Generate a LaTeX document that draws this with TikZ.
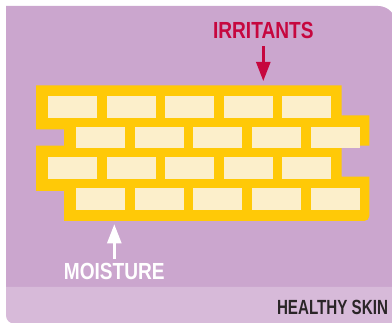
\documentclass[tikz,border=0pt]{standalone}
\usepackage{fontspec}
\setmainfont{Liberation Sans}
\newfontfamily\labelfont[FakeStretch=0.82]{Liberation Sans}
\newfontfamily\tagfont[FakeStretch=0.74]{Liberation Sans}
\usetikzlibrary{arrows.meta}
\definecolor{panel}{HTML}{CBA6CE}
\definecolor{strip}{HTML}{D7BAD9}
\definecolor{mortar}{HTML}{FFC907}
\definecolor{brick}{HTML}{FCEFCB}
\definecolor{irritred}{HTML}{C6073F}
\definecolor{tagdark}{HTML}{2A2527}
\tikzset{
  bigword/.style={inner sep=0pt,font=\labelfont\bfseries\fontsize{23.3}{24}\selectfont},
  brickbox/.style={fill=brick,draw=none},
  flowarrow/.style={line width=2.5pt,-{Triangle[width=14pt,length=19pt]}}
}
\begin{document}
\begin{tikzpicture}[x=1pt,y=-1pt]
		  \useasboundingbox (0,0) rectangle (392,323);
		  \clip (0,0) rectangle (392,323);
		  % panel and bottom strip
		  \fill[panel] (6,300) -- (6,6) [rounded corners=18pt] -- (396,6)
		    [sharp corners] -- (396,300) -- cycle;
		  \fill[strip] (6,287) -- (396,287) -- (396,323.5)
		    [rounded corners=8pt] -- (6,323.5) [sharp corners] -- cycle;
		  % wall
		  \fill[mortar] (36,85.3) -- (341.7,85.3) -- (341.7,115.3) -- (369.3,115.3)
		    -- (369.3,145.7) -- (341.7,145.7) -- (341.7,176.7) -- (369.3,176.7)
		    [rounded corners=5pt] -- (369.3,221) [sharp corners] -- (64,221)
		    -- (64,191) -- (36,191) -- (36,145.7) -- (64,145.7) -- (64,129.3)
		    -- (36,129.3) -- cycle;
		  \foreach \r in {0,1,2,3} {
		    \pgfmathsetmacro{\rowy}{96+30.67*\r}
		    \pgfmathsetmacro{\rowx}{ifthenelse(mod(\r,2)==0,48,76.2)}
		    \foreach \i in {0,...,4}
		      \fill[brickbox] (\rowx+58.6*\i,\rowy) rectangle ++(49,21.7);
		  }
		  % labels
		  \node[bigword,text=irritred] (irr) at (263.3,30.7) {IRRITANTS};
		  \coordinate (irrtip) at (263.3,81);
		  \draw[flowarrow,irritred,shorten <=7pt] (irr.south) -- (irrtip);
		  \node[bigword,text=white] (moist) at (114.3,271.7) {MOISTURE};
		  \coordinate (moisttip) at (114.3,224.3);
		  \draw[flowarrow,white,shorten <=4pt] (moist.north) -- (moisttip);
		  \node[inner sep=0pt,text=tagdark,font=\tagfont\bfseries\fontsize{20.5}{22}\selectfont]
		    (skin) at (332.5,307.8) {HEALTHY SKIN};
		\end{tikzpicture}
\end{document}
